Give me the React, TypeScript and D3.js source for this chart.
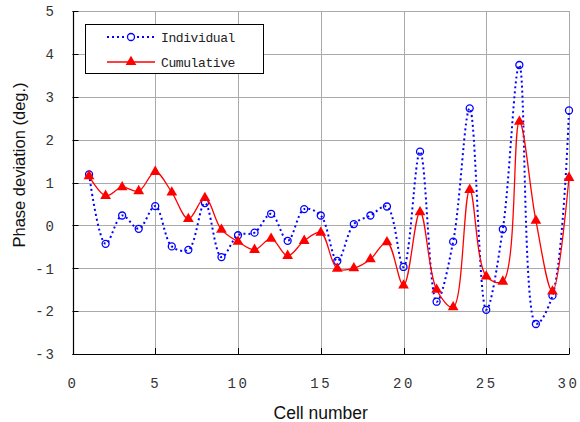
import React from "react";
import * as d3 from "d3";

const cells = [1,2,3,4,5,6,7,8,9,10,11,12,13,14,15,16,17,18,19,20,21,22,23,24,25,26,27,28,29,30];
const individual = [1.19,-0.43,0.23,-0.08,0.45,-0.49,-0.57,0.52,-0.74,-0.23,-0.17,0.27,-0.36,0.38,0.23,-0.83,0.03,0.23,0.44,-0.97,1.72,-1.78,-0.38,2.73,-1.97,-0.09,3.74,-2.30,-1.64,2.68];
const cumulative = [1.15,0.69,0.89,0.80,1.25,0.77,0.15,0.64,-0.10,-0.38,-0.57,-0.31,-0.71,-0.36,-0.17,-1.01,-1.00,-0.79,-0.39,-1.40,0.31,-1.50,-1.91,0.83,-1.19,-1.31,2.42,0.11,-1.54,1.11];
const xTicks = [0,5,10,15,20,25,30];
const yTicks = [-3,-2,-1,0,1,2,3,4,5];
const legendLabels = ["Individual","Cumulative"];
const xTitle = "Cell number";
const yTitle = "Phase deviation (deg.)";

export default function App() {
  const W = 580, H = 422;
  const x = d3.scaleLinear().domain([0, 30]).range([72.5, 569]);
  const y = d3.scaleLinear().domain([-3, 5]).range([354, 11]);
  const curve = d3.curveCatmullRom.alpha(0.5);
  const lineInd = d3.line<number>().x((_, i) => x(cells[i])).y(d => y(d)).curve(curve);
  const lineCum = d3.line<number>().x((_, i) => x(cells[i])).y(d => y(d)).curve(curve);
  const tri = d3.symbol().type(d3.symbolTriangle).size(50)();
  const mono = "'Liberation Mono', 'DejaVu Sans Mono', monospace";
  const sans = "'Liberation Sans', Arial, sans-serif";
  const x0 = x(0), y0 = y(-3);
  return (
    <svg width={W} height={H} style={{ position: "absolute", left: 0, top: 0, background: "#fff" }}>
      <rect x={0} y={0} width={W} height={H} fill="#fff" />
      {/* gridlines */}
      {yTicks.filter(t => t > -3).map(t => (
        <line key={"gy" + t} x1={x0} x2={x(30)} y1={Math.round(y(t)) + 0.5} y2={Math.round(y(t)) + 0.5} stroke="#aaaaaa" strokeWidth={1} />
      ))}
      {xTicks.filter(t => t > 0).map(t => (
        <line key={"gx" + t} x1={Math.round(x(t)) + 0.5} x2={Math.round(x(t)) + 0.5} y1={y(5)} y2={y0} stroke="#aaaaaa" strokeWidth={1} />
      ))}
      {/* axes */}
      <line x1={Math.round(x0) + 0.5} x2={Math.round(x0) + 0.5} y1={y(5)} y2={y0 + 0.5} stroke="#000" strokeWidth={1.2} />
      <line x1={x0} x2={x(30) + 0.5} y1={Math.round(y0) + 0.5} y2={Math.round(y0) + 0.5} stroke="#000" strokeWidth={1.2} />
      {yTicks.map(t => (
        <line key={"ty" + t} x1={x0} x2={x0 + 6} y1={Math.round(y(t)) + 0.5} y2={Math.round(y(t)) + 0.5} stroke="#000" strokeWidth={1} />
      ))}
      {xTicks.map(t => (
        <line key={"tx" + t} x1={Math.round(x(t)) + 0.5} x2={Math.round(x(t)) + 0.5} y1={y0} y2={y0 - 6} stroke="#000" strokeWidth={1} />
      ))}
      {/* tick labels */}
      {yTicks.map(t => (
        <text key={"ly" + t} x={56} y={y(t)} dy="0.38em" textAnchor="end" fontFamily={mono} fontSize={14} letterSpacing={2} fill="#333">{t}</text>
      ))}
      {xTicks.map(t => (
        <text key={"lx" + t} x={x(t) + (t === 30 ? -0.5 : 0.5)} y={388} textAnchor="middle" fontFamily={mono} fontSize={14} letterSpacing={2.5} fill="#333">{t}</text>
      ))}
      {/* titles */}
      <text x={(x0 + x(30)) / 2} y={419} textAnchor="middle" fontFamily={sans} fontSize={17.5} fill="#111">{xTitle}</text>
      <text transform={`translate(25,165) rotate(-90)`} textAnchor="middle" fontFamily={sans} fontSize={16.5} fill="#111">{yTitle}</text>
      {/* individual series */}
      <path d={lineInd(individual) || ""} fill="none" stroke="#0000ff" strokeWidth={2} strokeDasharray="2,3" />
      {individual.map((v, i) => (
        <circle key={"ci" + i} cx={x(cells[i])} cy={y(v)} r={3.5} fill="none" stroke="#0000ff" strokeWidth={1.3} />
      ))}
      {/* cumulative series */}
      <path d={lineCum(cumulative) || ""} fill="none" stroke="#ff0000" strokeWidth={1.3} />
      {cumulative.map((v, i) => (
        <path key={"tr" + i} d={tri || ""} transform={`translate(${x(cells[i])},${y(v)})`} fill="#ff0000" />
      ))}
      {/* legend */}
      <rect x={85.5} y={24.5} width={178} height={49} fill="#fff" stroke="#000" strokeWidth={1} />
      <line x1={107} x2={154} y1={37} y2={37} stroke="#0000ff" strokeWidth={2} strokeDasharray="2,3" />
      <circle cx={131} cy={37} r={3.5} fill="#fff" stroke="#0000ff" strokeWidth={1.3} />
      <text x={161} y={37} dy="0.35em" fontFamily={mono} fontSize={13} letterSpacing={-0.4} fill="#222">{legendLabels[0]}</text>
      <line x1={107} x2={155} y1={62} y2={62} stroke="#ff0000" strokeWidth={1.3} />
      <path d={tri || ""} transform="translate(131,62)" fill="#ff0000" />
      <text x={161} y={62} dy="0.35em" fontFamily={mono} fontSize={13} letterSpacing={-0.4} fill="#222">{legendLabels[1]}</text>
    </svg>
  );
}
